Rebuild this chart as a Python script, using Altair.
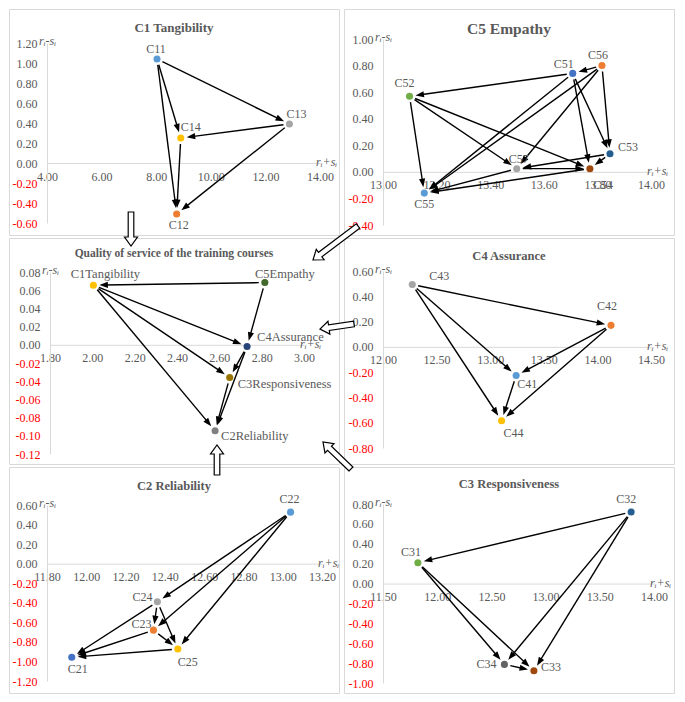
import math
import altair as alt
import pandas as pd

# ---------------- data ----------------
C1_NAMES = ["C11", "C12", "C13", "C14"]
C1_X = [8.03, 8.75, 12.88, 8.90]
C1_Y = [1.04, -0.51, 0.39, 0.25]
C1_COLORS = ["#5B9BD5", "#ED7D31", "#A5A5A5", "#FFC000"]
C1_FROM = ["C11", "C11", "C11", "C13", "C13", "C14"]
C1_TO = ["C13", "C14", "C12", "C14", "C12", "C12"]
C1_XTICKS = [4.0, 6.0, 8.0, 10.0, 12.0, 14.0]
C1_YTICKS = [-0.6, -0.4, -0.2, 0.0, 0.2, 0.4, 0.6, 0.8, 1.0, 1.2]

C5_NAMES = ["C51", "C52", "C53", "C54", "C55", "C56", "C57"]
C5_X = [13.708, 13.099, 13.847, 13.772, 13.154, 13.817, 13.499]
C5_Y = [0.741, 0.569, 0.136, 0.024, -0.160, 0.800, 0.024]
C5_COLORS = ["#4472C4", "#70AD47", "#255E91", "#9E480E", "#5B9BD5", "#ED7D31", "#A5A5A5"]
C5_FROM = ["C56", "C51", "C51", "C56", "C56", "C51", "C51", "C56",
           "C52", "C52", "C52", "C53", "C53", "C57", "C57", "C54"]
C5_TO = ["C51", "C52", "C55", "C55", "C57", "C54", "C53", "C53",
         "C57", "C54", "C55", "C57", "C54", "C54", "C55", "C55"]
C5_XTICKS = [13.0, 13.2, 13.4, 13.6, 13.8, 14.0]
C5_YTICKS = [-0.4, -0.2, 0.0, 0.2, 0.4, 0.6, 0.8, 1.0]

Q_NAMES = ["C1Tangibility", "C2Reliability", "C3Responsiveness", "C4Assurance", "C5Empathy"]
Q_X = [2.005, 2.580, 2.649, 2.731, 2.815]
Q_Y = [0.0655, -0.0945, -0.0360, -0.0018, 0.0684]
Q_COLORS = ["#FFC000", "#7F7F7F", "#997300", "#264478", "#43682B"]
Q_FROM = ["C5Empathy", "C5Empathy", "C1Tangibility", "C1Tangibility", "C1Tangibility",
          "C4Assurance", "C4Assurance", "C3Responsiveness"]
Q_TO = ["C1Tangibility", "C4Assurance", "C4Assurance", "C3Responsiveness", "C2Reliability",
        "C3Responsiveness", "C2Reliability", "C2Reliability"]
Q_XTICKS = [1.8, 2.0, 2.2, 2.4, 2.6, 2.8, 3.0]
Q_YTICKS = [-0.12, -0.10, -0.08, -0.06, -0.04, -0.02, 0.0, 0.02, 0.04, 0.06, 0.08]

C4_NAMES = ["C41", "C42", "C43", "C44"]
C4_X = [13.242, 14.127, 12.273, 13.106]
C4_Y = [-0.227, 0.170, 0.493, -0.584]
C4_COLORS = ["#5B9BD5", "#ED7D31", "#A5A5A5", "#FFC000"]
C4_FROM = ["C43", "C43", "C43", "C42", "C42", "C41"]
C4_TO = ["C42", "C41", "C44", "C41", "C44", "C44"]
C4_XTICKS = [12.0, 12.5, 13.0, 13.5, 14.0, 14.5]
C4_YTICKS = [-0.8, -0.6, -0.4, -0.2, 0.0, 0.2, 0.4, 0.6]

C2_NAMES = ["C21", "C22", "C23", "C24", "C25"]
C2_X = [11.926, 13.040, 12.342, 12.362, 12.466]
C2_Y = [-0.957, 0.527, -0.680, -0.390, -0.873]
C2_COLORS = ["#4472C4", "#5B9BD5", "#ED7D31", "#A5A5A5", "#FFC000"]
C2_FROM = ["C22", "C22", "C22", "C24", "C24", "C24", "C23", "C23", "C25"]
C2_TO = ["C24", "C23", "C25", "C23", "C25", "C21", "C25", "C21", "C21"]
C2_XTICKS = [11.8, 12.0, 12.2, 12.4, 12.6, 12.8, 13.0, 13.2]
C2_YTICKS = [-1.2, -1.0, -0.8, -0.6, -0.4, -0.2, 0.0, 0.2, 0.4, 0.6]

C3_NAMES = ["C31", "C32", "C33", "C34"]
C3_X = [11.822, 13.789, 12.892, 12.620]
C3_Y = [0.210, 0.719, -0.877, -0.813]
C3_COLORS = ["#70AD47", "#255E91", "#9E480E", "#636363"]
C3_FROM = ["C32", "C32", "C32", "C31", "C31", "C34"]
C3_TO = ["C31", "C34", "C33", "C34", "C33", "C33"]
C3_XTICKS = [11.5, 12.0, 12.5, 13.0, 13.5, 14.0]
C3_YTICKS = [-1.0, -0.8, -0.6, -0.4, -0.2, 0.0, 0.2, 0.4, 0.6, 0.8]

# ---------------- styles / layout ----------------
W, H = 330, 226
HSP, VSP = 5, 3
FONT = "Liberation Serif"
GREY = "#595959"
LINE = "#D9D9D9"
HEAD = "M0,0L0.62,1.7L-0.62,1.7Z"

# label offsets in pixels: (dx, dy, align)
LABEL_STYLE = {
    "C11": (-1, -10, "center"), "C12": (2, 11, "center"), "C13": (7, -10, "center"), "C14": (10, -11, "center"),
    "C51": (-9, -9, "center"), "C52": (-5, -13, "center"), "C53": (8, -7, "left"), "C54": (13, 16, "center"),
    "C55": (0, 11, "center"), "C56": (-4, -11, "center"), "C57": (2, -10, "center"),
    "C1Tangibility": (12, -11, "center"), "C5Empathy": (20, -9, "center"), "C4Assurance": (10, -9, "left"),
    "C3Responsiveness": (8, 6, "left"), "C2Reliability": (6, 5, "left"),
    "C43": (17, -9, "left"), "C42": (-4, -19, "center"), "C41": (1, 8, "left"), "C44": (12, 12, "center"),
    "C22": (-1, -13, "center"), "C24": (-5, -5, "right"), "C23": (-2, -6, "right"), "C25": (10, 13, "center"),
    "C21": (6, 12, "center"),
    "C32": (-5, -13, "center"), "C31": (-7, -11, "center"), "C34": (-8, 0, "right"), "C33": (7, -4, "left"),
}

PANELS = {
    "C1": dict(title="C1 Tangibility", tsize=13, ty=19, xr=(38, 311), yr=(34, 214), lsize=12),
    "C5": dict(title="C5 Empathy", tsize=15.5, ty=20, xr=(39, 307), yr=(30, 216), lsize=12),
    "Q": dict(title="Quality of service of the training courses", tsize=11.5, ty=16, xr=(41, 295), yr=(34, 216), lsize=12.5),
    "C4": dict(title="C4 Assurance", tsize=12.5, ty=18, xr=(39, 307), yr=(33, 210), lsize=12),
    "C2": dict(title="C2 Reliability", tsize=12.5, ty=19, xr=(38, 313), yr=(38, 214), lsize=12),
    "C3": dict(title="C3 Responsiveness", tsize=12.5, ty=17, xr=(39, 310), yr=(37, 216), lsize=12),
}

# hollow block arrows between panels, chart coordinates (tail, tip)
BLOCKS = [((122, 203), (122, 237)), ((349, 217), (304, 251)), ((345, 315), (311, 320)),
          ((342, 460), (314, 433)), ((208, 466), (208, 436))]


def block_path(L, sw=2.8, hw=6.5, hl=9.0):
    h = L / 2.0
    pts = [(-sw, h), (-sw, -h + hl), (-hw, -h + hl), (0, -h), (hw, -h + hl), (sw, -h + hl), (sw, h)]
    return "M" + "L".join(f"{x / h:.4f},{y / h:.4f}" for x, y in pts) + "Z"


def build(names, xs, ys, colors, src, dst, xticks, yticks, spec, extra=None):
    x0p, x1p = spec["xr"]
    ytp, ybp = spec["yr"]
    xmin, xmax = xticks[0], xticks[-1]
    ymin, ymax = yticks[0], yticks[-1]
    kx = (x1p - x0p) / (xmax - xmin)
    ky = (ybp - ytp) / (ymax - ymin)
    px = lambda v: x0p + (v - xmin) * kx
    py = lambda v: ybp - (v - ymin) * ky
    ix = lambda p: xmin + (p - x0p) / kx
    iy = lambda p: ymin + (ybp - p) / ky
    xsc = alt.Scale(domain=[xmin, xmax], range=[x0p, x1p], nice=False, zero=False)
    ysc = alt.Scale(domain=[ymin, ymax], range=[ybp, ytp], nice=False, zero=False)

    pos = dict(zip(names, zip(xs, ys)))
    pts = pd.DataFrame({"name": names, "x": xs, "y": ys, "color": colors})

    rows = []
    for a, b in zip(src, dst):
        ax, ay = px(pos[a][0]), py(pos[a][1])
        bx, by = px(pos[b][0]), py(pos[b][1])
        dx, dy = bx - ax, by - ay
        L = math.hypot(dx, dy)
        ux, uy = dx / L, dy / L
        sx, sy = ax + ux * 6, ay + uy * 6
        tx, ty = bx - ux * 6, by - uy * 6
        ex, ey = tx - ux * 5, ty - uy * 5
        ang = math.degrees(math.atan2(ux, -uy)) % 360
        rows.append(dict(x1=ix(sx), y1=iy(sy), x2=ix(ex), y2=iy(ey), hx=ix(tx), hy=iy(ty), ang=ang))
    arr = pd.DataFrame(rows)

    lab = []
    for n, xv, yv in zip(names, xs, ys):
        dx, dy, al = LABEL_STYLE[n]
        lab.append(dict(name=n, lx=ix(px(xv) + dx), ly=iy(py(yv) + dy), al=al))
    lab = pd.DataFrame(lab)

    lab_expr = "replace(format(datum.value, '.2f'), '\u2212', '-')"
    xaxis = alt.Axis(values=xticks, labelExpr=lab_expr, orient="bottom", offset=py(0) - H,
                     domainColor=LINE, domainWidth=1, ticks=False, grid=False, title=None,
                     labelFont=FONT, labelFontSize=12, labelColor=GREY, labelPadding=8,
                     labelFlush=False, labelOverlap=False, labelBound=False)
    yaxis = alt.Axis(values=yticks, labelExpr=lab_expr, orient="left", offset=-x0p,
                     domainColor=LINE, domainWidth=1, ticks=False, grid=False, title=None,
                     labelFont=FONT, labelFontSize=12, labelPadding=10,
                     labelColor=alt.condition("datum.value < 0", alt.value("#FF0000"), alt.value(GREY)),
                     labelFlush=False, labelOverlap=False, labelBound=False)
    X = lambda f: alt.X(f, scale=xsc, axis=xaxis)
    Y = lambda f: alt.Y(f, scale=ysc, axis=yaxis)

    layers = []
    layers.append(alt.Chart(pts).mark_circle(size=50, opacity=1).encode(
        x=X("x:Q"), y=Y("y:Q"), color=alt.Color("color:N", scale=None)))
    layers.append(alt.Chart(arr).mark_rule(color="black", strokeWidth=1.4).encode(
        x=X("x1:Q"), y=Y("y1:Q"), x2="x2:Q", y2="y2:Q"))
    layers.append(alt.Chart(arr).mark_point(shape=HEAD, filled=True, size=100, color="black",
                                            opacity=1, strokeWidth=0).encode(
        x=X("hx:Q"), y=Y("hy:Q"), angle=alt.Angle("ang:Q", scale=None)))
    for al in ["left", "center", "right"]:
        sub = lab[lab["al"] == al]
        if len(sub) == 0:
            continue
        layers.append(alt.Chart(sub).mark_text(align=al, baseline="middle", font=FONT,
                                               fontSize=spec["lsize"], color=GREY).encode(
            x=X("lx:Q"), y=Y("ly:Q"), text="name:N"))
    # axis names
    at = pd.DataFrame({"t": ["r\u1d62+s\u1d62", "r\u1d62-s\u1d62"],
                       "x": [ix(x1p - 4), ix(x0p - 8)], "y": [iy(py(0) - 1), iy(ytp - 2)]})
    layers.append(alt.Chart(at).mark_text(align="left", baseline="middle", font=FONT, fontStyle="italic",
                                          fontSize=12, color=GREY).encode(
        x=X("x:Q"), y=Y("y:Q"), text="t:N"))
    # panel title
    layers.append(alt.Chart(alt.Data(values=[{}])).mark_text(
        text=spec["title"], align="center", baseline="middle", font=FONT, fontWeight="bold",
        fontSize=spec["tsize"], color=GREY).encode(x=alt.value(W / 2), y=alt.value(spec["ty"])))
    if extra:
        layers.extend(extra)
    return alt.layer(*layers).properties(width=W, height=H)


# block arrows drawn in the last panel (origin at chart coords below)
ox, oy = W + HSP, 2 * (H + VSP)
blocks = []
for (tx0, ty0), (tx1, ty1) in BLOCKS:
    L = math.hypot(tx1 - tx0, ty1 - ty0)
    ux, uy = (tx1 - tx0) / L, (ty1 - ty0) / L
    ang = math.degrees(math.atan2(ux, -uy)) % 360
    cx, cy = (tx0 + tx1) / 2 - ox, (ty0 + ty1) / 2 - oy
    blocks.append(alt.Chart(alt.Data(values=[{}])).mark_point(
        shape=block_path(L), size=L * L, filled=True, fill="white", stroke="black",
        strokeWidth=1.2, opacity=1, angle=ang).encode(x=alt.value(cx), y=alt.value(cy)))

p1 = build(C1_NAMES, C1_X, C1_Y, C1_COLORS, C1_FROM, C1_TO, C1_XTICKS, C1_YTICKS, PANELS["C1"])
p2 = build(C5_NAMES, C5_X, C5_Y, C5_COLORS, C5_FROM, C5_TO, C5_XTICKS, C5_YTICKS, PANELS["C5"])
p3 = build(Q_NAMES, Q_X, Q_Y, Q_COLORS, Q_FROM, Q_TO, Q_XTICKS, Q_YTICKS, PANELS["Q"])
p4 = build(C4_NAMES, C4_X, C4_Y, C4_COLORS, C4_FROM, C4_TO, C4_XTICKS, C4_YTICKS, PANELS["C4"])
p5 = build(C2_NAMES, C2_X, C2_Y, C2_COLORS, C2_FROM, C2_TO, C2_XTICKS, C2_YTICKS, PANELS["C2"])
p6 = build(C3_NAMES, C3_X, C3_Y, C3_COLORS, C3_FROM, C3_TO, C3_XTICKS, C3_YTICKS, PANELS["C3"], extra=blocks)

chart = (alt.concat(p1, p2, p3, p4, p5, p6, columns=2, spacing={"row": VSP, "column": HSP},
                    bounds="flush")
         .properties(padding=0)
         .configure_view(stroke=LINE, strokeWidth=1)
         .configure_axis(labelFont=FONT, labelFontSize=12)
         .configure_text(font=FONT))

chart.save("out.html", embed_options={"renderer": "svg", "actions": False})
